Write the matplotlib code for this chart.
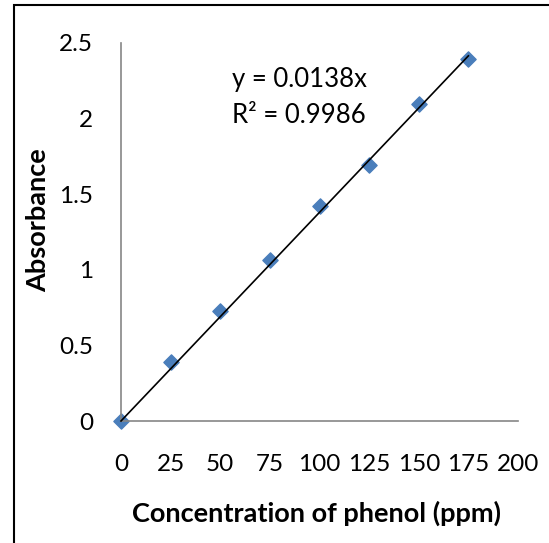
import numpy as np
import matplotlib.pyplot as plt
from matplotlib.patches import Rectangle

# phenol calibration data
conc = [0, 25, 50, 75, 100, 125, 150, 175]
absorbance = [0, 0.39, 0.726, 1.067, 1.42, 1.696, 2.099, 2.392]
xticks = [0, 25, 50, 75, 100, 125, 150, 175, 200]
yticks = [0, 0.5, 1, 1.5, 2, 2.5]
slope = 0.0138
r2 = 0.9986

plt.rcParams['font.family'] = ['Lato', 'DejaVu Sans']

fig = plt.figure(figsize=(5.49, 5.43), dpi=100)
ax = fig.add_axes([121/549, 1-421/543, (518-121)/549, (421-43)/543])

# outer chart border
fig.patches.append(Rectangle((14/549, -0.1), 1.2, 1-5/543+0.1, transform=fig.transFigure,
                             fill=False, edgecolor='black', linewidth=1.5))

ax.scatter(conc, absorbance, marker='D', s=60, color='#4a7ebb', zorder=2, clip_on=False)
xfit = np.array([0, 175])
ax.plot(xfit, slope*xfit, color='black', linewidth=1.2, zorder=3, clip_on=False)

ax.set_xlim(0, 200)
ax.set_ylim(0, 2.5)
ax.set_xticks(xticks)
ax.set_xticklabels([str(t) for t in xticks])
ax.set_yticks(yticks)
ax.set_yticklabels(['0', '0.5', '1', '1.5', '2', '2.5'])
ax.tick_params(axis='both', length=0, labelsize=17.5)
ax.tick_params(axis='x', pad=24)
ax.tick_params(axis='y', pad=20)

for s in ['top', 'right']:
    ax.spines[s].set_visible(False)
for s in ['left', 'bottom']:
    ax.spines[s].set_color('#868686')
    ax.spines[s].set_linewidth(1.2)

ax.set_xlabel('Concentration of phenol (ppm)', fontsize=19.5, fontweight='bold')
ax.set_ylabel('Absorbance', fontsize=19.5, fontweight='bold')
ax.xaxis.set_label_coords(317/549, 1-513/543, transform=fig.transFigure)
ax.yaxis.set_label_coords(38/549, 1-220/543, transform=fig.transFigure)
ax.xaxis.label.set_va('center')
ax.yaxis.label.set_va('center')

ax.text(232/549, 1-87/543, f'y = {slope}x', transform=fig.transFigure, fontsize=18.5, va='baseline')
ax.text(232/549, 1-123/543, f'R² = {r2}', transform=fig.transFigure, fontsize=18.5, va='baseline')

fig.savefig('out.png', dpi=100)
